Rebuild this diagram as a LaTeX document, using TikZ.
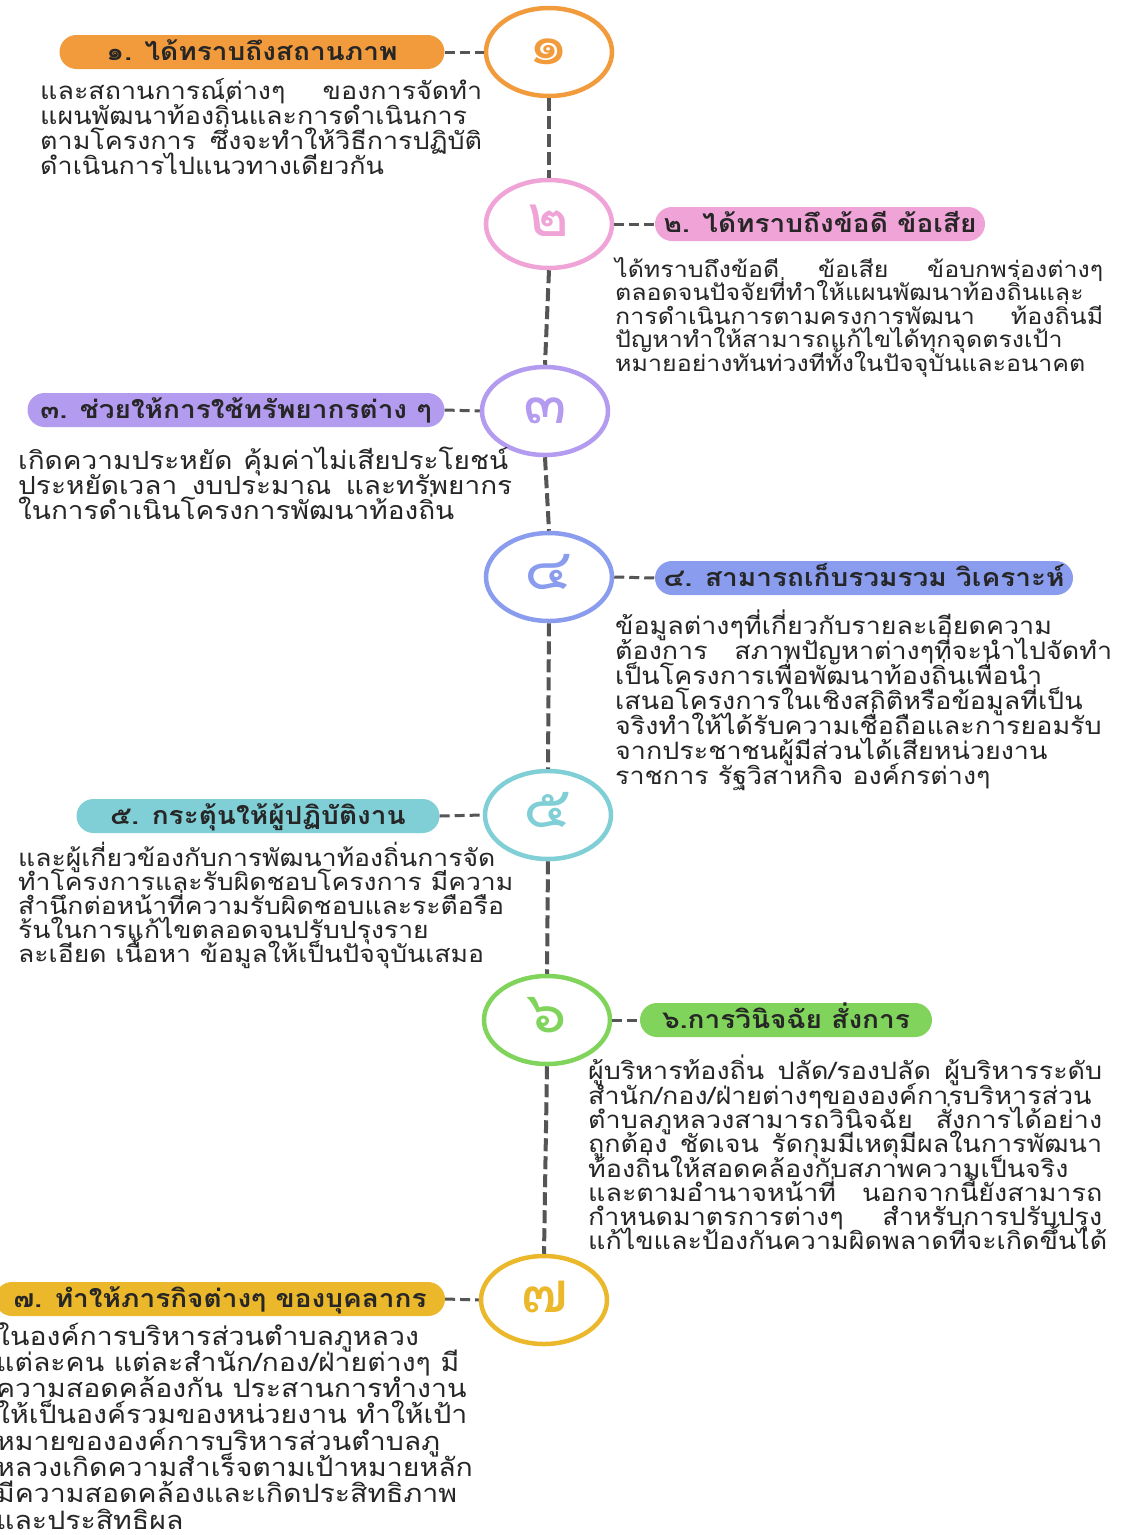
\documentclass[tikz,border=0pt]{standalone}
\usepackage{fontspec}
\setmainfont[Script=Thai,FakeStretch=1.12]{Loma}
\usetikzlibrary{shapes.geometric}

\definecolor{oneorange}{HTML}{F29B3C}
\definecolor{twopink}{HTML}{EFA3D6}
\definecolor{threepurple}{HTML}{B39BF0}
\definecolor{fourblue}{HTML}{8A9CEE}
\definecolor{fiveteal}{HTML}{80CFD6}
\definecolor{sixgreen}{HTML}{80D45C}
\definecolor{sevengold}{HTML}{EBB82C}
\definecolor{linegray}{HTML}{555555}
\definecolor{inkdark}{HTML}{262626}

% one justified line of a text block
\newcommand{\jline}[2]{\makebox[#1pt][s]{#2}}
% body font: size and fixed line distance
\newcommand{\bodysize}[2]{\fontsize{#1}{#2}\selectfont\lineskiplimit=-40pt\lineskip=0pt\relax}

\tikzset{
	numcircle/.style={ellipse,draw=#1,line width=4.5pt,minimum width=126pt,minimum height=88pt,inner sep=0pt,text height=25pt,text depth=0pt,text=#1,font=\fontsize{57}{57}\selectfont},
	headpill/.style={rectangle,rounded corners=17pt,fill=#1,minimum height=34pt,inner sep=0pt,text height=19pt,text depth=2pt,text=inkdark,font=\bfseries\fontsize{25}{28}\selectfont},
	bodytext/.style={anchor=north west,align=left,inner sep=0pt,text=inkdark,font={\bodysize{24}{25}}},
	vline/.style={draw=linegray,line width=4pt,dash pattern=on 13pt off 5pt},
	hline/.style={draw=linegray,line width=3pt,dash pattern=on 10pt off 5pt},
}

\begin{document}
\begin{tikzpicture}[x=1pt,y=-1pt]
	\useasboundingbox (0,0) rectangle (1124,1535);
	\fill[white] (0,0) rectangle (1124,1535);

	% circles on the time line
	\node [numcircle=oneorange] (c1) at (549,52) {๑};
	\node [numcircle=twopink] (c2) at (549,224) {๒};
	\node [numcircle=threepurple] (c3) at (545,411) {๓};
	\node [numcircle=fourblue] (c4) at (549,577) {๔};
	\node [numcircle=fiveteal] (c5) at (548,815) {๕};
	\node [numcircle=sixgreen] (c6) at (547,1020) {๖};
	\node [numcircle=sevengold] (c7) at (544,1300) {๗};

	% headings
	\node [headpill=oneorange,minimum width=385pt] (t1) at (252,52) {๑. ได้ทราบถึงสถานภาพ\hspace{30pt}};
	\node [headpill=twopink,minimum width=330pt] (t2) at (820,224) {๒. ได้ทราบถึงข้อดี ข้อเสีย};
	\node [headpill=threepurple,minimum width=417pt] (t3) at (236,410) {๓. ช่วยให้การใช้ทรัพยากรต่าง ๆ};
	\node [headpill=fourblue,minimum width=418pt] (t4) at (864,578) {๔. สามารถเก็บรวมรวม วิเคราะห์};
	\node [headpill=fiveteal,minimum width=363pt] (t5) at (258,816) {๕. กระตุ้นให้ผู้ปฏิบัติงาน};
	\node [headpill=sixgreen,minimum width=292pt] (t6) at (786,1020) {๖.การวินิจฉัย สั่งการ};
	\node [headpill=sevengold,minimum width=450pt] (t7) at (220,1299) {๗. ทำให้ภารกิจต่างๆ ของบุคลากร};

	% texts under the headings
	\node [bodytext] (b1) at (40,78) {\jline{442}{และสถานการณ์ต่างๆ ของการจัดทำ}\\
		แผนพัฒนาท้องถิ่นและการดำเนินการ\\
		\jline{442}{ตามโครงการ ซึ่งจะทำให้วิธีการปฏิบัติ}\\
		ดำเนินการไปแนวทางเดียวกัน};
	\node [bodytext,font={\bodysize{22.3}{23.5}}] (b2) at (615,257) {\jline{488}{ได้ทราบถึงข้อดี ข้อเสีย ข้อบกพร่องต่างๆ}\\
		ตลอดจนปัจจัยที่ทำให้แผนพัฒนาท้องถิ่นและ\\
		\jline{488}{การดำเนินการตามครงการพัฒนา ท้องถิ่นมี}\\
		ปัญหาทำให้สามารถแก้ไขได้ทุกจุดตรงเป้า\\
		หมายอย่างทันท่วงทีทั้งในปัจจุบันและอนาคต};
	\node [bodytext,font={\bodysize{25}{25}}] (b3) at (18,447) {\jline{490}{เกิดความประหยัด คุ้มค่าไม่เสียประโยชน์}\\
		\jline{494}{ประหยัดเวลา งบประมาณ และทรัพยากร}\\
		ในการดำเนินโครงการพัฒนาท้องถิ่น};
	\node [bodytext] (b4) at (615,610) {ข้อมูลต่างๆที่เกี่ยวกับรายละเอียดความ\\
		\jline{497}{ต้องการ สภาพปัญหาต่างๆที่จะนำไปจัดทำ}\\
		เป็นโครงการเพื่อพัฒนาท้องถิ่นเพื่อนำ\\
		เสนอโครงการในเชิงสถิติหรือข้อมูลที่เป็น\\
		จริงทำให้ได้รับความเชื่อถือและการยอมรับ\\
		จากประชาชนผู้มีส่วนได้เสียหน่วยงาน\\
		ราชการ รัฐวิสาหกิจ องค์กรต่างๆ};
	\node [bodytext,font={\bodysize{23.7}{24}}] (b5) at (18,842) {และผู้เกี่ยวข้องกับการพัฒนาท้องถิ่นการจัด\\
		ทำโครงการและรับผิดชอบโครงการ มีความ\\
		สำนึกต่อหน้าที่ความรับผิดชอบและระตือรือ\\
		ร้นในการแก้ไขตลอดจนปรับปรุงราย\\
		ละเอียด เนื้อหา ข้อมูลให้เป็นปัจจุบันเสมอ};
	\node [bodytext,font={\bodysize{24}{24.3}}] (b6) at (588,1055) {\jline{514}{ผู้บริหารท้องถิ่น ปลัด/รองปลัด ผู้บริหารระดับ}\\
		สำนัก/กอง/ฝ่ายต่างๆขององค์การบริหารส่วน\\
		\jline{514}{ตำบลภูหลวงสามารถวินิจฉัย สั่งการได้อย่าง}\\
		\jline{514}{ถูกต้อง ชัดเจน รัดกุมมีเหตุมีผลในการพัฒนา}\\
		ท้องถิ่นให้สอดคล้องกับสภาพความเป็นจริง\\
		\jline{514}{และตามอำนาจหน้าที่ นอกจากนี้ยังสามารถ}\\
		\jline{514}{กำหนดมาตรการต่างๆ สำหรับการปรับปรุง}\\
		แก้ไขและป้องกันความผิดพลาดที่จะเกิดขึ้นได้};
	\node [bodytext,font={\bodysize{25.4}{26.3}}] (b7) at (-4,1322) {ในองค์การบริหารส่วนตำบลภูหลวง\\
		แต่ละคน แต่ละสำนัก/กอง/ฝ่ายต่างๆ มี\\
		ความสอดคล้องกัน ประสานการทำงาน\\
		ให้เป็นองค์รวมของหน่วยงาน ทำให้เป้า\\
		หมายขององค์การบริหารส่วนตำบลภู\\
		หลวงเกิดความสำเร็จตามเป้าหมายหลัก\\
		มีความสอดคล้องและเกิดประสิทธิภาพ\\
		และประสิทธิผล};

	% connectors
	\draw [vline] (c1.south) -- (c2.north);
	\draw [vline] (c2.south) -- (c3.north);
	\draw [vline] (c3.south) -- (c4.north);
	\draw [vline] (c4.south) -- (c5.north);
	\draw [vline] (c5.south) -- (c6.north);
	\draw [vline] (c6.south) -- (c7.north);
	\draw [hline] (t1.east) -- (c1.west);
	\draw [hline] (c2.east) -- (t2.west);
	\draw [hline] (t3.east) -- (c3.west);
	\draw [hline] (c4.east) -- (t4.west);
	\draw [hline] (t5.east) -- (c5.west);
	\draw [hline] (c6.east) -- (t6.west);
	\draw [hline] (t7.east) -- (c7.west);
\end{tikzpicture}
\end{document}
